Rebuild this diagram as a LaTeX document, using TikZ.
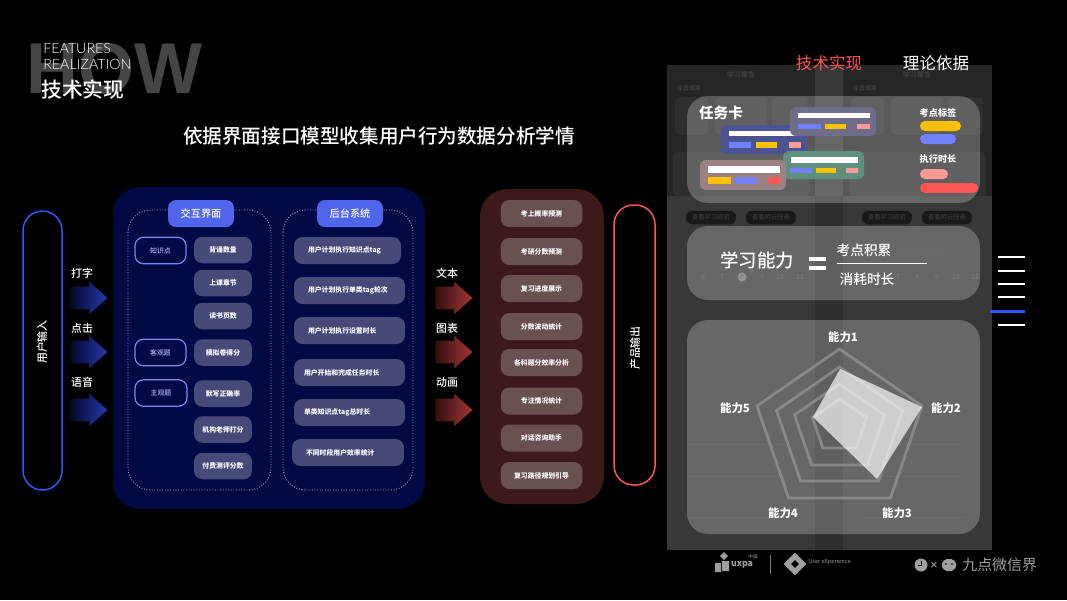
\documentclass[tikz,border=0pt]{standalone}
\usepackage{fontspec}
\usepackage{xcolor}
\usepackage{tikz}
\usetikzlibrary{shapes.geometric, shapes.arrows, positioning}
\setmainfont{Noto Sans CJK SC}
\newfontfamily\medfont{Noto Sans CJK SC Medium}
\newfontfamily\howfont{Liberation Sans}
\newfontfamily\latinlight{Lato}[UprightFont=* Light]
\definecolor{uxblue}{RGB}{51,85,255}
\definecolor{uxnavy}{RGB}{2,10,69}
\definecolor{uxhead}{RGB}{79,102,236}
\definecolor{uxitem}{RGB}{69,74,120}
\definecolor{uxtag}{RGB}{123,134,232}
\definecolor{uxred}{RGB}{255,85,85}
\definecolor{uxmaroon}{RGB}{61,26,26}
\definecolor{uxrose}{RGB}{107,80,80}
\definecolor{uxyellow}{RGB}{255,192,0}
\definecolor{uxperi}{RGB}{112,128,255}
\definecolor{uxpink}{RGB}{255,153,153}
\definecolor{uxgreen}{RGB}{95,144,125}
\definecolor{uxmauve}{RGB}{154,130,130}
\definecolor{uxslate}{RGB}{110,110,136}
\definecolor{uxindigo}{RGB}{75,83,144}
\definecolor{flowblue}{RGB}{38,56,176}
\definecolor{flowblue0}{RGB}{4,8,40}
\definecolor{flowred}{RGB}{165,52,52}
\definecolor{flowred0}{RGB}{50,16,16}
\definecolor{shotdark}{RGB}{38,38,38}
\definecolor{shotlight}{RGB}{56,56,56}
\definecolor{shotmid}{RGB}{46,46,46}

\begin{document}
\begin{tikzpicture}[
  x=0.02cm, y=-0.02cm,
  every node/.style={text=white, inner sep=0pt},
  pillbox/.style={draw=#1, line width=0.03cm, rounded corners=0.39cm},
  panel/.style={rounded corners=0.55cm, fill=#1},
  dotbox/.style={draw=white!60!uxnavy, densely dotted, line width=0.5pt, rounded corners=0.45cm},
  headbox/.style={fill=uxhead, rounded corners=0.16cm, minimum width=1.32cm, minimum height=0.54cm,
                  font=\fontsize{5.8}{7}\medfont},
  tagbox/.style={draw=uxtag, line width=0.7pt, rounded corners=0.17cm, minimum width=1.02cm,
                 minimum height=0.53cm, font=\fontsize{3.9}{5}\medfont, text=uxtag!60!white},
  itembox/.style={fill=uxitem, rounded corners=0.17cm, minimum width=1.16cm, minimum height=0.53cm,
                  font=\fontsize{3.9}{5}\selectfont\bfseries},
  rowbox/.style 2 args={fill=uxitem, rounded corners=0.17cm, inner xsep=#1cm, text width={#2cm-2*#1cm},
                  minimum height=0.54cm, align=left, font=\fontsize{3.9}{5}\selectfont\bfseries},
  outbox/.style={fill=uxrose, rounded corners=0.17cm, minimum width=1.63cm, minimum height=0.54cm,
                 font=\fontsize{3.9}{5}\selectfont\bfseries},
  flow/.style 2 args={single arrow, single arrow head extend=0.1cm, single arrow tip angle=84,
               inner ysep=0.22cm, minimum width=0.64cm, minimum height=0.74cm, anchor=tail,
               left color=#1, right color=#2},
  word/.style={font=\fontsize{6.2}{8}\medfont},
  card/.style={fill=white, opacity=0.24, rounded corners=0.42cm},
  task/.style={rounded corners=0.12cm, fill=#1},
  bar/.style={fill=#1},
  legend/.style={fill=#1, rounded corners=0.1cm},
  ghost/.style={font=\fontsize{4}{5}\selectfont\bfseries, text=white!24!black},
  ghostnum/.style={font=\fontsize{4}{5}\selectfont, text=white!34!black},
  ghostbtn/.style={fill=black!90!white, rounded corners=0.12cm, minimum width=1cm, minimum height=0.27cm,
                   font=\fontsize{3.6}{5}\selectfont, text=white!25!black},
  ghostbox/.style={fill=white!4!shotdark, rounded corners=0.1cm},
  ring/.style={draw=white!58!black, line width=1.6pt, line join=miter, opacity=0.75},
  power/.style={font=\fontsize{6.5}{8}\selectfont\bfseries},
  mark grey/.style={text=white!62!black},
]
\useasboundingbox[fill=black] (0,0) rectangle (1067,600);

% ── title block ──
\node[anchor=west, font=\fontsize{41}{41}\howfont\bfseries, text=white!27!black] (how) at (26,69) {HOW};
\node[anchor=west, font=\fontsize{8.1}{10}\latinlight] (feat) at (43,48) {FEATURES};
\node[anchor=west, font=\fontsize{8.1}{10}\latinlight] (real) at (43,64) {REALIZATION};
\node[anchor=west, font=\fontsize{11.8}{13}\medfont] (tech) at (41,90) {技术实现};
\node[font=\fontsize{11.15}{13}\medfont] (headline) at (379,136) {依据界面接口模型收集用户行为数据分析学情};

% ── input pill and arrows ──
\draw[pillbox=uxblue] (23,211) rectangle (62,490);
\node[rotate=90, font=\fontsize{6.2}{8}\medfont] (input) at (42,342) {用户输入};
\node[word] (w1) at (82,273) {打字};
\node[word] (w2) at (82,328) {点击};
\node[word] (w3) at (82,382) {语音};
\node[flow={flowblue0}{flowblue}] (a1) at (70,298) {};
\node[flow={flowblue0}{flowblue}] (a2) at (70,352) {};
\node[flow={flowblue0}{flowblue}] (a3) at (70,410) {};

% ── navy panel ──
\fill[panel=uxnavy] (113,187) rectangle (425,509);
\draw[dotbox] (128,210) rectangle (271,490);
\draw[dotbox] (283,210) rectangle (413,490);
\node[headbox] (ui) at (201,213.5) {交互界面};
\node[headbox] (backend) at (350,213.5) {后台系统};

% ── left column ──
\node[tagbox] (t1) at (160.5,250.5) {知识点};
\node[tagbox] (t2) at (160.5,352.5) {客观题};
\node[tagbox, minimum width=1.04cm] (t3) at (161,393) {主观题};
\foreach \name/\ypos/\txt in {i1/250/背诵数量, i2/283/上课章节, i3/316/读书页数, i4/352.5/模拟卷得分,
                              i5/393.5/默写正确率, i6/429.5/机构老师打分, i7/466/付费测评分数}
  \node[itembox] (\name) at (223,\ypos) {\txt};

% ── right column ──
\node[rowbox={0.28}{2.14}] (r1) at (347.5,250.5) {用户计划执行知识点tag};
\node[rowbox={0.28}{2.22}] (r2) at (349.5,290.5) {用户计划执行单类tag轮次};
\node[rowbox={0.28}{2.22}] (r3) at (349.5,330.5) {用户计划执行设置时长};
\node[rowbox={0.20}{2.22}] (r4) at (349.5,372.5) {用户开始和完成任务时长};
\node[rowbox={0.20}{2.22}] (r5) at (349.5,412.5) {单类知识点tag总时长};
\node[rowbox={0.28}{2.24}] (r6) at (348,452.5) {不同时段用户效率统计};

% ── output arrows and panel ──
\node[word] (w4) at (447,273) {文本};
\node[word] (w5) at (447,328) {图表};
\node[word] (w6) at (447,382) {动画};
\node[flow={flowred0}{flowred}] (a4) at (435,298) {};
\node[flow={flowred0}{flowred}] (a5) at (435,352) {};
\node[flow={flowred0}{flowred}] (a6) at (435,410) {};
\fill[panel=uxmaroon] (480,189) rectangle (604,504);
\foreach \name/\ypos/\txt in {o1/213.5/考上概率预测, o2/251.5/考研分数预测, o3/288.5/复习进度展示, o4/326.5/分数波动统计,
                              o5/362.5/各科题分效率分析, o6/401/专注情况统计, o7/438/对话咨询助手, o8/475.5/复习路径规划引导}
  \node[outbox] (\name) at (541.5,\ypos) {\txt};
\draw[pillbox=uxred] (614,205) rectangle (655,485);
\node[rotate=90, font=\fontsize{6.2}{8}\medfont] (output) at (635,348) {产品输出};

% ── screenshot behind the cards ──
\fill[shotdark] (667,65) rectangle (992,196);
\fill[shotlight] (667,196) rectangle (992,550);
\fill[shotlight] (815,65) rectangle (843,196);
\fill[shotmid] (815,196) rectangle (843,550);
\node[ghost] (g1) at (741,74.5) {学习报告};
\node[ghost] (g2) at (917,74.5) {学习报告};
\node[ghost, font=\fontsize{3.4}{4}\selectfont\bfseries] (g7) at (689,88) {今日成果};
\node[ghost, font=\fontsize{3.4}{4}\selectfont\bfseries] (g8) at (865,88) {今日成果};
\foreach \xoff in {0,176} {
  \fill[ghostbox, xshift=\xoff*0.02cm] (675,97) rectangle (708,135);
  \fill[ghostbox, xshift=\xoff*0.02cm] (715,97) rectangle (767,135);
  \fill[ghostbox, xshift=\xoff*0.02cm] (772,97) rectangle (807,135);
  \fill[ghostbox, xshift=\xoff*0.02cm] (673,152) rectangle (810,196);
}
\node[ghostbtn] (g3) at (711,217.5) {查看学习经验};
\node[ghostbtn] (g4) at (771,217.5) {查看明日任务};
\node[ghostbtn] (g5) at (887,217.5) {查看学习经验};
\node[ghostbtn] (g6) at (947,217.5) {查看明日任务};
\node[ghost, font=\fontsize{5}{6}\selectfont] (g9) at (919,252) {2020年10月};
\fill[white!45!black] (742,277) circle (4.5);
\foreach \xpos/\txt in {703/6, 722/7, 742/8, 762/9, 780/10, 800/11}
  \node[ghostnum] at (\xpos,277) {\txt};
\foreach \xpos/\txt in {879/6, 898/7, 917/8, 937/9, 956/10, 975/11}
  \node[ghostnum] at (\xpos,277) {\txt};
\foreach \ypos in {444,476,517}
  \fill[white!25!black] (688,\ypos) rectangle (790,\ypos+1);
\foreach \ypos in {444,476,517}
  \fill[white!25!black] (864,\ypos) rectangle (966,\ypos+1);

% ── tabs ──
\node[font=\fontsize{9.4}{11}\selectfont, text=uxred] (tab1) at (829,63) {技术实现};
\node[font=\fontsize{9.4}{11}\selectfont] (tab2) at (936,63) {理论依据};

% ── cards ──
\fill[card] (687,96) rectangle (980,203);
\fill[card] (687,226) rectangle (980,300);
\fill[card] (687,320) rectangle (980,534);

% ── task card ──
\node[font=\fontsize{8.3}{10}\selectfont\bfseries] (taskcard) at (721,113) {任务卡};
\fill[task=uxindigo] (721,125) rectangle (807,154);
\fill[bar=white] (729,130.5) rectangle (797,136);
\fill[bar=uxperi] (729,141.5) rectangle (751,148);
\fill[bar=uxyellow] (756,141.5) rectangle (777,148);
\fill[bar=uxpink] (789,141.5) rectangle (801,148);
\fill[task=uxslate] (790,107) rectangle (876,136);
\fill[bar=white] (798,113) rectangle (870,118);
\fill[bar=uxperi] (798,124) rectangle (821,129);
\fill[bar=uxyellow] (825,124) rectangle (846,129);
\fill[bar=uxpink] (857,124) rectangle (870,129);
\fill[task=uxgreen] (783,151) rectangle (864,179);
\fill[bar=white] (791,157) rectangle (858,163);
\fill[bar=uxperi] (790,168) rectangle (812,173);
\fill[bar=uxyellow] (816,168) rectangle (836,173);
\fill[bar=uxpink] (846,168) rectangle (858,173);
\fill[task=uxmauve] (700,160) rectangle (786,190);
\fill[bar=white] (708,166) rectangle (780,173);
\fill[bar=uxyellow] (708,177) rectangle (731,184);
\fill[bar=uxperi] (735,177) rectangle (757,184);
\fill[bar=uxred] (768,177) rectangle (780,184);

% ── legend ──
\node[font=\fontsize{5.2}{7}\selectfont\bfseries] (tagtitle) at (938,113) {考点标签};
\fill[legend=uxyellow] (920,121) rectangle (961,131);
\fill[legend=uxperi] (920,134) rectangle (956,144);
\node[font=\fontsize{5.2}{7}\selectfont\bfseries] (timetitle) at (938,159) {执行时长};
\fill[legend=uxpink] (920,169) rectangle (948,179);
\fill[legend=uxred] (920,183) rectangle (978,193);

% ── formula ──
\node[font=\fontsize{10.5}{12}\medfont] (ability) at (757,260) {学习能力};
\fill[white] (809,257) rectangle (826,261);
\fill[white] (809,266) rectangle (826,270);
\node[font=\fontsize{7.8}{10}\medfont] (numer) at (864,250) {考点积累};
\node[font=\fontsize{7.8}{10}\medfont] (denom) at (867,279) {消耗时长};
\coordinate (fracl) at (837,263.5);
\coordinate (fracr) at (927,263.5);
\draw[white, line width=0.6pt] (fracl) -- (fracr);

% ── radar ──
\foreach \wid/\up/\lo in {82.5/349/498, 63/367/481, 45/384/465, 27/399/448}
  \draw[ring] (839.5-\wid,\up+0.382*\lo-0.382*\up) -- (839.5,\up) -- (839.5+\wid,\up+0.382*\lo-0.382*\up)
     -- (839.5+0.618*\wid,\lo) -- (839.5-0.618*\wid,\lo) -- cycle;
\fill[white, opacity=0.68] (840,369) -- (922,407) -- (877,479) -- (813,417) -- cycle;
\node[power] (p1) at (843,337) {能力1};
\node[power] (p2) at (946,408) {能力2};
\node[power] (p3) at (897,513) {能力3};
\node[power] (p4) at (783,513) {能力4};
\node[power] (p5) at (735,408) {能力5};

% ── side menu ──
\foreach \ypos in {257,271,284,297,325}
  \draw[white, line width=0.6pt] (998,\ypos) -- (1025,\ypos);
\fill[uxblue] (990,310) rectangle (1025,313);

% ── logos ──
\fill[white!62!black] (715,563) rectangle (721,572) (722,561) rectangle (729,571);
\fill[white!62!black] (720,556) -- (724,552) -- (728,556) -- (724,560) -- cycle;
\node[mark grey, font=\fontsize{5}{6}\selectfont\bfseries] (uxpa) at (742,565) {uxpa};
\node[mark grey, font=\fontsize{2.6}{3}\selectfont] (china) at (753,557) {中国};
\draw[white!50!black, line width=0.4pt] (770,555) -- (770,574);
\node[diamond, fill=white!62!black, minimum size=0.46cm] (xpmark) at (795,564) {};
\node[diamond, fill=black, minimum size=0.16cm] (xphole) at (795,564) {};
\node[mark grey, font=\fontsize{3.2}{4}\selectfont, anchor=west] (xptext) at (808,562) {User eXperience};
\node[circle, fill=white!62!black, minimum size=0.26cm] (clock) at (921,565) {};
\draw[black, line width=0.5pt] (921,561) -- (clock.center) -- (917.5,565);
\node[mark grey, font=\fontsize{5}{6}\selectfont\bfseries] (times) at (934,565) {×};
\node[ellipse, fill=white!62!black, minimum width=0.29cm, minimum height=0.25cm] (chat) at (949,565) {};
\fill[black] (946,564) circle (0.8) (952,564) circle (0.8);
\node[mark grey, font=\fontsize{8.5}{10}\selectfont, anchor=west] (brand) at (962,565) {九点微信界};

\end{tikzpicture}
\end{document}
